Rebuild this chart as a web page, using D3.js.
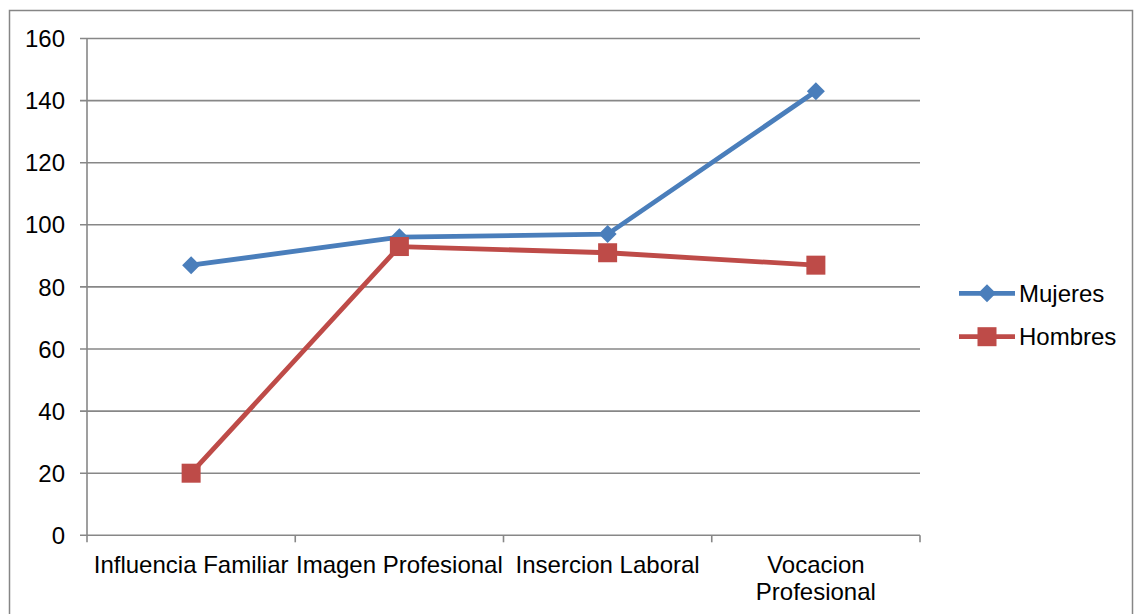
<!DOCTYPE html>
<html><head><meta charset="utf-8">
<script src="https://cdn.jsdelivr.net/npm/d3@7"></script>
<style>body{margin:0;background:#fff}svg{display:block}text{font-family:"Liberation Sans",Arial,sans-serif;fill:#000}</style>
</head><body><svg id="c" width="1135" height="614"></svg>
<script>
const categories = ["Influencia Familiar", "Imagen Profesional", "Insercion Laboral", "Vocacion Profesional"];
const categoryLines = [["Influencia Familiar"], ["Imagen Profesional"], ["Insercion Laboral"], ["Vocacion", "Profesional"]];
const mujeres = [87, 96, 97, 143];
const hombres = [20, 93, 91, 87];
const yTicks = [0, 20, 40, 60, 80, 100, 120, 140, 160];
const seriesNames = ["Mujeres", "Hombres"];
const colors = ["#4A7EBB", "#BE4B48"];

const svg = d3.select("#c");
const fs = 24;
svg.append("rect").attr("x", 9.5).attr("y", 10.5).attr("width", 1123).attr("height", 620)
  .attr("fill", "none").attr("stroke", "#868686").attr("stroke-width", 1.5);

const L = 87, R = 920, T = 38.5, B = 535.3;
const x = d3.scaleBand().domain(categories).range([L, R]);
const y = d3.scaleLinear().domain([0, 160]).range([B, T]);

// gridlines
svg.append("g").selectAll("line").data(yTicks).join("line")
  .attr("x1", L - 7).attr("x2", R).attr("y1", d => y(d)).attr("y2", d => y(d))
  .attr("stroke", "#878787").attr("stroke-width", 1.6);
// y axis line
svg.append("line").attr("x1", L).attr("x2", L).attr("y1", T).attr("y2", B)
  .attr("stroke", "#878787").attr("stroke-width", 1.6);
// x ticks
const bounds = categories.map(c => x(c)).concat([R]);
svg.append("g").selectAll("line").data(bounds).join("line")
  .attr("x1", d => d).attr("x2", d => d).attr("y1", B).attr("y2", B + 7)
  .attr("stroke", "#878787").attr("stroke-width", 1.6);
// y labels
svg.append("g").selectAll("text").data(yTicks).join("text")
  .attr("x", 65).attr("y", d => y(d)).attr("dy", "0.36em").attr("text-anchor", "end")
  .attr("font-size", fs).text(d => d);
// x labels
categories.forEach((c, i) => {
  const t = svg.append("text").attr("x", x(c) + x.bandwidth() / 2).attr("y", 572.5)
    .attr("text-anchor", "middle").attr("font-size", fs);
  categoryLines[i].forEach((ln, j) => t.append("tspan").attr("x", x(c) + x.bandwidth() / 2).attr("dy", j ? 27 : 0).text(ln));
});

const cx = c => x(c) + x.bandwidth() / 2;
const line = d3.line().x((d, i) => cx(categories[i])).y(d => y(d));
const series = [mujeres, hombres];
series.forEach((s, k) => {
  svg.append("path").datum(s).attr("d", line).attr("fill", "none")
    .attr("stroke", colors[k]).attr("stroke-width", 4.8).attr("stroke-linejoin", "round");
});
function marker(g, k, px, py) {
  if (k === 0) {
    const r = 9;
    g.append("path").attr("d", `M${px},${py - r}L${px + r},${py}L${px},${py + r}L${px - r},${py}Z`).attr("fill", colors[0]);
  } else {
    const h = 9.5;
    g.append("rect").attr("x", px - h).attr("y", py - h).attr("width", 2 * h).attr("height", 2 * h).attr("fill", colors[1]);
  }
}
series.forEach((s, k) => {
  const g = svg.append("g");
  s.forEach((v, i) => marker(g, k, cx(categories[i]), y(v)));
});
// legend
const ly = [293.3, 336.7];
seriesNames.forEach((n, k) => {
  svg.append("line").attr("x1", 959).attr("x2", 1015).attr("y1", ly[k]).attr("y2", ly[k])
    .attr("stroke", colors[k]).attr("stroke-width", 4.8);
  marker(svg, k, 987, ly[k]);
  svg.append("text").attr("x", 1019).attr("y", ly[k]).attr("dy", "0.36em").attr("font-size", fs).text(n);
});
</script></body></html>
